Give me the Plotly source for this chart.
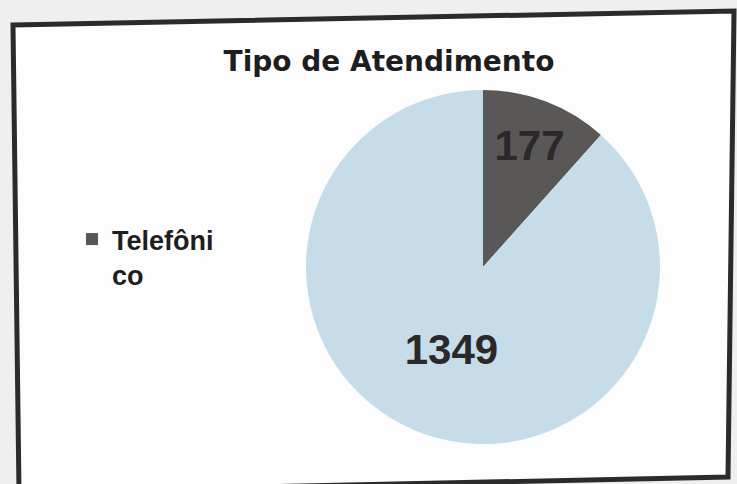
import plotly.graph_objects as go

# Data
categories = ["Telefônico", "Presencial"]
values = [177, 1349]
slice_colors = ["#5a5757", "#c6dce8"]
legend_label = "Telefôni<br>co"
title_text = "Tipo de Atendimento"

W, H = 737, 484

def px(x):
    return x / W

def py(y):
    return 1 - y / H

fig = go.Figure()

fig.add_trace(go.Pie(
    labels=categories,
    values=values,
    marker=dict(colors=slice_colors, line=dict(width=0)),
    sort=False,
    direction="clockwise",
    rotation=0,
    textinfo="value",
    textposition="inside",
    insidetextorientation="horizontal",
    textfont=dict(family="Liberation Sans, Arial, sans-serif", size=42, color="#2a2828", weight="bold"),
    showlegend=False,
    domain=dict(x=[px(483 - 177), px(483 + 177)], y=[py(267 + 177), py(267 - 177)]),
    hoverinfo="label+value",
))

# Legend entry (only the first category is visible in the reference legend)
fig.add_trace(go.Scatter(
    x=[None], y=[None],
    mode="markers",
    marker=dict(symbol="square", size=13, color=slice_colors[0]),
    name=legend_label,
    showlegend=True,
))

frame_path = (
    f"M {px(13)},{py(25)} L {px(734)},{py(11)} L {px(728)},{py(477)} "
    f"L {px(19)},{py(492)} Z"
)

fig.update_layout(
    width=W, height=H,
    margin=dict(l=0, r=0, t=0, b=0),
    paper_bgcolor="#efefef",
    plot_bgcolor="rgba(0,0,0,0)",
    xaxis=dict(visible=False, range=[0, 1]),
    yaxis=dict(visible=False, range=[0, 1]),
    title=dict(
        text=title_text,
        x=px(389), xanchor="center",
        y=py(61), yanchor="middle",
        font=dict(family="DejaVu Sans, sans-serif", size=28, color="#1e1e1e", weight="bold"),
    ),
    legend=dict(
        x=px(72), y=py(215), xanchor="left", yanchor="top",
        bgcolor="rgba(0,0,0,0)",
        valign="top",
        font=dict(family="Liberation Sans, Arial, sans-serif", size=27, color="#1e1e1e", weight="bold"),
        itemsizing="constant",
    ),
    shapes=[
        dict(
            type="path", path=frame_path,
            xref="paper", yref="paper",
            fillcolor="#fdfdfd",
            line=dict(color="#2b2b2b", width=5),
            layer="below",
        )
    ],
)

fig.write_html(
    "out.html",
    config={"displayModeBar": False},
    post_script="document.body.style.margin='0';document.body.style.overflow='hidden';",
)
